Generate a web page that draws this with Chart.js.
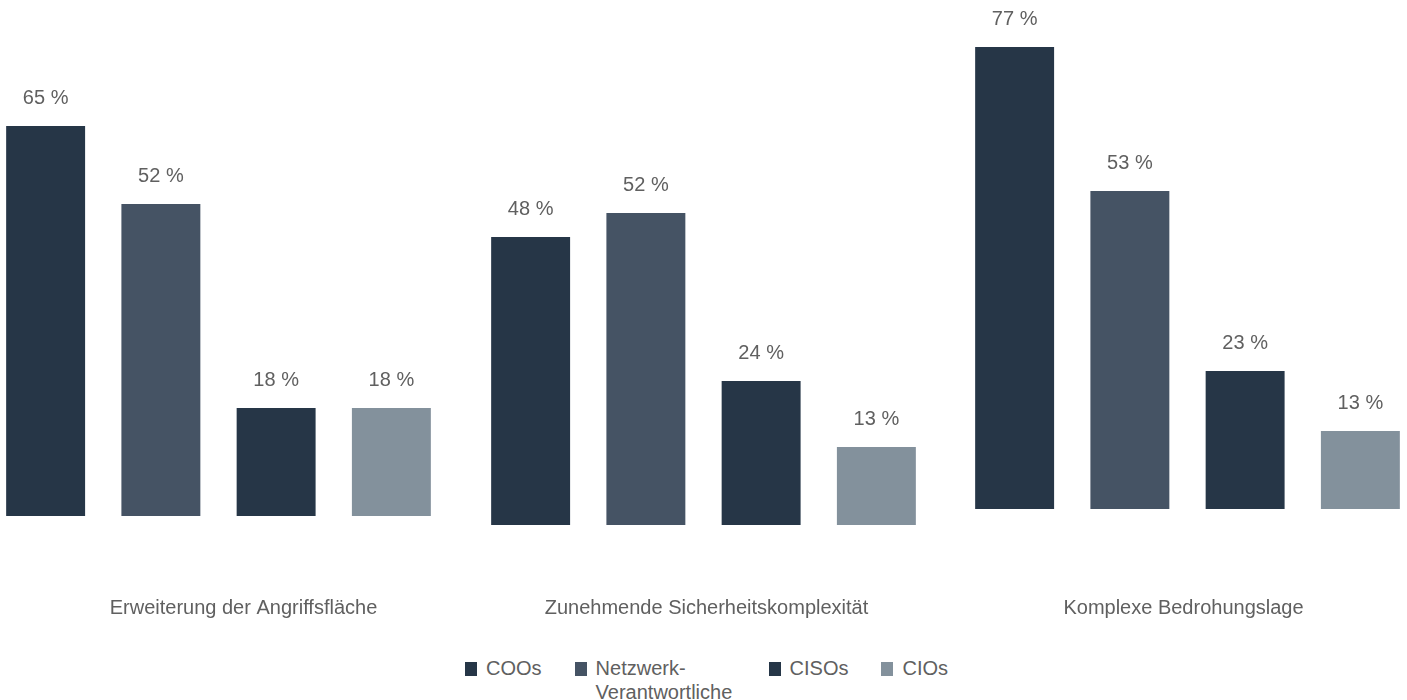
<!DOCTYPE html>
<html lang="de">
<head>
<meta charset="utf-8">
<title>Herausforderungen der Netzwerksicherheit</title>
<script src="https://cdn.jsdelivr.net/npm/chart.js@4.4.1/dist/chart.umd.min.js"></script>
<style>
  body {
    margin: 0;
    width: 1407px;
    height: 700px;
    position: relative;
    overflow: hidden;
    background: #fff;
    font-family: "Liberation Sans", Arial, sans-serif;
  }
  canvas.panel {
    position: absolute;
    top: 0;
  }
  #legend {
    position: absolute;
    top: 656px;
    left: 465px;
    display: flex;
    align-items: flex-start;
    color: #606060;
    font-size: 20px;
    line-height: 24px;
  }
  #legend .item {
    display: flex;
    align-items: flex-start;
    margin-right: 33px;
  }
  #legend .box {
    width: 12px;
    height: 14px;
    margin-top: 6px;
    margin-right: 9px;
    flex: none;
  }
  #legend .text {
    max-width: 140px;
  }
</style>
</head>
<body>
<canvas class="panel" id="panel0" width="461" height="640"></canvas>
<canvas class="panel" id="panel1" width="461" height="640"></canvas>
<canvas class="panel" id="panel2" width="461" height="640"></canvas>
<div id="legend"></div>

<script>
// categories, one panel each
const categories = [
    'Erweiterung der Angriffsfläche',
    'Zunehmende Sicherheitskomplexität',
    'Komplexe Bedrohungslage'
];

// series in legend order
const seriesNames = ['COOs', 'Netzwerk-Verantwortliche', 'CISOs', 'CIOs'];
const seriesColors = ['#263647', '#455364', '#263647', '#83919c'];

// values in % per category
const coos = [65, 48, 77];
const netzwerk = [52, 52, 53];
const cisos = [18, 24, 23];
const cios = [18, 13, 13];
const seriesValues = [coos, netzwerk, cisos, cios];

// panel placement
const canvasHeight = 640;
const panelLeft = [-12, 473, 957];
const baseline = [516, 525, 509];
const labelShift = [25, 3, -4];
const categoryLabelY = 608;
const yMax = 84;
const pxPerPct = 6;
const labelFont = { family: '"Liberation Sans", Arial, sans-serif', size: 20 };
const textColor = '#606060';

// value above every bar
const valueLabels = {
    id: 'valueLabels',
    afterDatasetsDraw(chart) {
        const ctx = chart.ctx;
        ctx.save();
        ctx.font = labelFont.size + 'px ' + labelFont.family;
        ctx.fillStyle = textColor;
        ctx.textAlign = 'center';
        ctx.textBaseline = 'alphabetic';
        chart.data.datasets.forEach((ds, i) => {
            chart.getDatasetMeta(i).data.forEach((bar, j) => {
                ctx.fillText(ds.data[j] + ' %', bar.x, bar.y - 22);
            });
        });
        ctx.restore();
    }
};

categories.forEach((category, i) => {
    const canvas = document.getElementById('panel' + i);
    canvas.style.left = panelLeft[i] + 'px';
    const tickPadding = categoryLabelY - baseline[i] - labelFont.size * 0.6;

    new Chart(canvas.getContext('2d'), {
        type: 'bar',
        data: {
            labels: [category],
            datasets: seriesNames.map((name, s) => ({
                label: name,
                data: [seriesValues[s][i]],
                backgroundColor: seriesColors[s],
                borderWidth: 0,
            }))
        },
        options: {
            responsive: false,
            animation: false,
            layout: {
                padding: {
                    top: baseline[i] - yMax * pxPerPct,
                    bottom: 0,
                    left: 0,
                    right: 0,
                }
            },
            datasets: {
                bar: {
                    categoryPercentage: 1,
                    barPercentage: 0.685,
                }
            },
            scales: {
                x: {
                    grid: { display: false, drawTicks: false },
                    border: { display: false },
                    ticks: {
                        color: textColor,
                        font: labelFont,
                        padding: tickPadding,
                        labelOffset: labelShift[i],
                    },
                    // keep the bar baseline fixed and the full width for bars
                    afterFit(scale) {
                        scale.height = canvasHeight - baseline[i];
                        scale.paddingLeft = 0;
                        scale.paddingRight = 0;
                    }
                },
                y: {
                    display: false,
                    min: 0,
                    max: yMax,
                }
            },
            plugins: {
                legend: { display: false },
                tooltip: { enabled: false },
            }
        },
        plugins: [valueLabels]
    });
});

// shared legend below the panels
const legend = document.getElementById('legend');
seriesNames.forEach((name, s) => {
    const item = document.createElement('div');
    item.className = 'item';
    const box = document.createElement('span');
    box.className = 'box';
    box.style.background = seriesColors[s];
    const text = document.createElement('span');
    text.className = 'text';
    text.textContent = name;
    item.appendChild(box);
    item.appendChild(text);
    legend.appendChild(item);
});
</script>
</body>
</html>
